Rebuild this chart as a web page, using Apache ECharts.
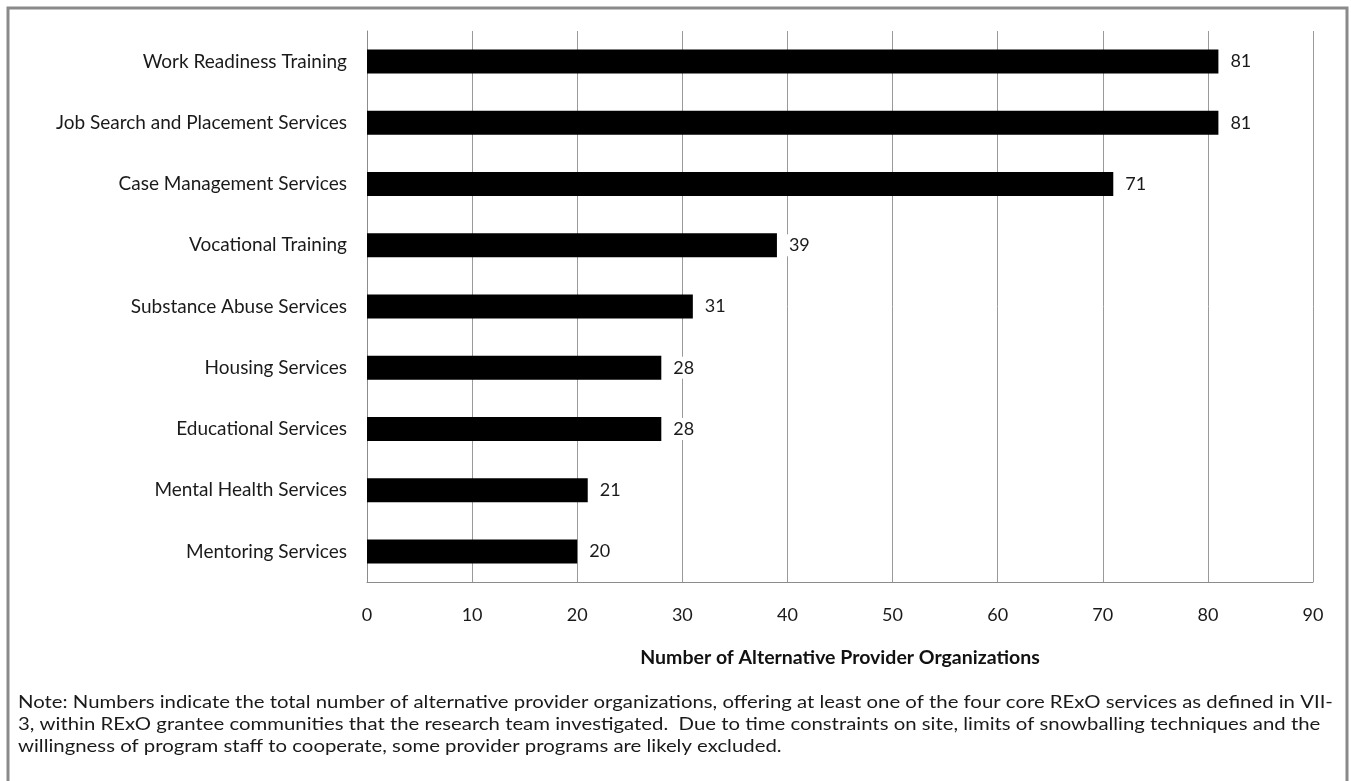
<!DOCTYPE html>
<html>
<head>
<meta charset="utf-8">
<script src="https://cdn.jsdelivr.net/npm/echarts@6/dist/echarts.min.js"></script>
<style>
  html, body { margin: 0; padding: 0; background: #fff; }
  #chart { width: 1351px; height: 781px; }
</style>
</head>
<body>
<div id="chart"></div>
<script>
// Services offered by alternative provider organizations
const categories = [
  'Work Readiness Training',
  'Job Search and Placement Services',
  'Case Management Services',
  'Vocational Training',
  'Substance Abuse Services',
  'Housing Services',
  'Educational Services',
  'Mental Health Services',
  'Mentoring Services'
];
const counts = [81, 81, 71, 39, 31, 28, 28, 21, 20];
const xTicks = [0, 10, 20, 30, 40, 50, 60, 70, 80, 90];
const axisTitle = 'Number of Alternative Provider Organizations';
const noteLines = [
  'Note: Numbers indicate the total number of alternative provider organizations, offering at least one of the four core RExO services as defined in VII-',
  '3, within RExO grantee communities that the research team investigated.  Due to time constraints on site, limits of snowballing techniques and the',
  'willingness of program staff to cooperate, some provider programs are likely excluded.'
];

const FONT = 'Lato, "Noto Sans", sans-serif';
const chart = echarts.init(document.getElementById('chart'), null, { renderer: 'canvas' });

chart.setOption({
  animation: false,
  backgroundColor: '#fff',
  textStyle: { fontFamily: FONT },
  grid: { left: 367, top: 31, width: 946, height: 551, containLabel: false },
  xAxis: {
    type: 'value',
    min: xTicks[0],
    max: xTicks[xTicks.length - 1],
    interval: 10,
    axisLine: { show: true, lineStyle: { color: '#8c8c8c', width: 1 } },
    axisTick: { show: false },
    axisLabel: { color: '#1a1a1a', fontSize: 18, margin: 24, fontFamily: FONT },
    splitLine: { show: true, lineStyle: { color: '#9a9a9a', width: 1 } },
    name: axisTitle,
    nameLocation: 'middle',
    nameGap: 66,
    nameTextStyle: { color: '#111', fontSize: 19.5, fontWeight: 'bold', fontFamily: FONT }
  },
  yAxis: {
    type: 'category',
    data: categories,
    inverse: true,
    axisLine: { show: true, lineStyle: { color: '#8c8c8c', width: 1 } },
    axisTick: { show: false },
    axisLabel: { color: '#1a1a1a', fontSize: 19, margin: 20, fontFamily: FONT },
    splitLine: { show: false }
  },
  series: [{
    type: 'bar',
    data: counts,
    barWidth: 24,
    itemStyle: { color: '#000' },
    label: {
      show: true,
      position: 'right',
      distance: 9,
      color: '#1a1a1a',
      fontSize: 18,
      fontFamily: FONT,
      backgroundColor: '#fff',
      padding: [2, 3]
    }
  }],
  graphic: [
    {
      type: 'rect',
      shape: { x: 8, y: 8, width: 1339, height: 800 },
      style: { fill: 'none', stroke: '#8a8a8a', lineWidth: 3 },
      silent: true
    }
  ].concat(noteLines.map((t, i) => ({
    type: 'text',
    x: 18,
    y: 702 + i * 22,
    scaleX: 1.13,
    style: { text: t, fill: '#1a1a1a', font: '18px ' + FONT, verticalAlign: 'middle' }
  })))
});
</script>
</body>
</html>
